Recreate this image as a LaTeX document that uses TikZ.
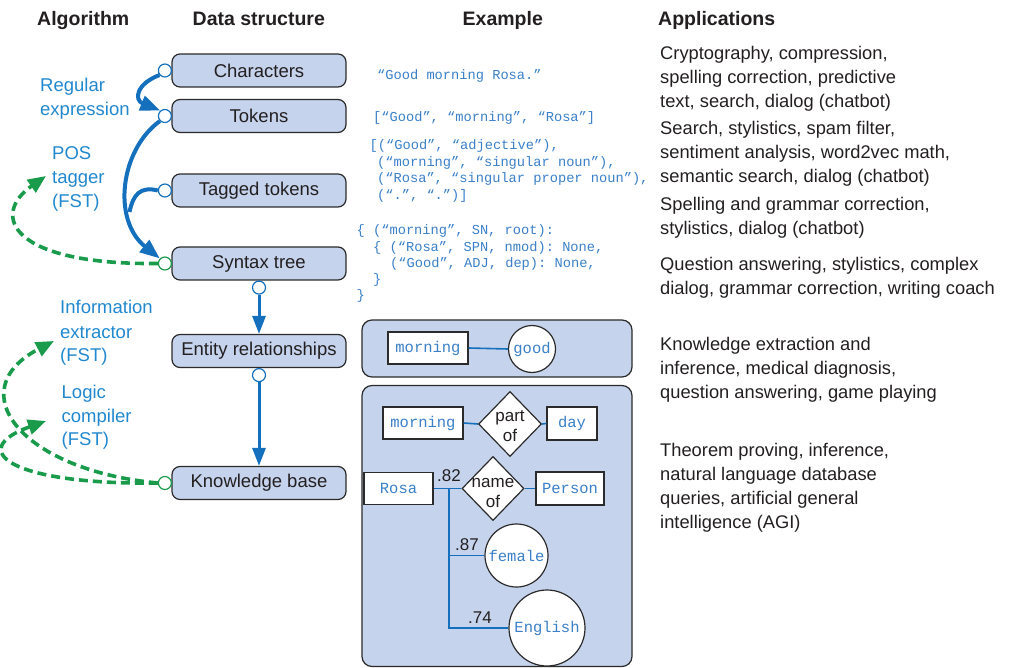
\documentclass[tikz,border=0pt]{standalone}
\usepackage{fontspec}
\setmainfont{Liberation Sans}
\setsansfont{Liberation Sans}
\setmonofont{Liberation Mono}
\usetikzlibrary{arrows.meta,shapes.geometric}
\definecolor{boxfill}{HTML}{C5D3EC}
\definecolor{boxline}{HTML}{2B2B2B}
\definecolor{arrblue}{HTML}{1470BD}
\definecolor{lblblue}{HTML}{2188CF}
\definecolor{codeblue}{HTML}{3A80C8}
\definecolor{fstgreen}{HTML}{1A9B4B}
\definecolor{txt}{HTML}{231F20}
\begin{document}
\begin{tikzpicture}[x=1pt,y=-1pt,
  dsbox/.style={draw=boxline, fill=boxfill, rounded corners=8pt, minimum width=174pt, minimum height=33pt, line width=1.2pt, font=\fontsize{18.5}{22}\selectfont, text=txt, inner sep=0pt},
  port/.style={circle, draw=arrblue, fill=white, line width=1.2pt, minimum size=13pt, inner sep=0pt},
  gport/.style={port, draw=fstgreen},
  flow/.style={draw=arrblue, line width=4pt, -{Triangle[length=20pt,width=15pt]}},
  vflow/.style={draw=arrblue, line width=3pt, -{Triangle[length=18pt,width=13pt]}},
  fst/.style={draw=fstgreen, line width=3.6pt, dash pattern=on 9pt off 5pt, -{Triangle[length=18pt,width=15pt]}},
  head/.style={anchor=base west, font=\bfseries\fontsize{19.5}{22}\selectfont, text=txt, inner sep=0pt},
  app/.style={anchor=base west, font=\fontsize{18.3}{22}\selectfont, text=txt, inner sep=0pt},
  alg/.style={anchor=base west, font=\fontsize{18.5}{22}\selectfont, text=lblblue, inner sep=0pt},
  code/.style={anchor=base west, font=\ttfamily\fontsize{13.7}{16}\selectfont, text=codeblue, inner sep=0pt},
  panel/.style={draw=boxline, fill=boxfill, rounded corners=10pt, line width=1.2pt, inner sep=0pt},
  ent/.style={draw=boxline, fill=white, line width=1.2pt, font=\ttfamily\fontsize{15.5}{18}\selectfont, text=codeblue, inner sep=0pt},
  attr/.style={circle, ent},
  rel/.style={diamond, draw=boxline, fill=white, line width=1.2pt, inner sep=0pt},
  reltext/.style={font=\fontsize{17}{20}\selectfont, align=center, text=txt, inner sep=0pt},
  wt/.style={anchor=base west, font=\fontsize{17}{19}\selectfont, text=txt, inner sep=0pt},
  link/.style={draw=arrblue, line width=1.6pt}
]
\useasboundingbox (0,0) rectangle (1012,668);

% headers
\node[head] (h1) at (37,26) {Algorithm};
\node[head] (h2) at (192.5,26) {Data structure};
\node[head] (h3) at (462.5,26) {Example};
\node[head] (h4) at (658,26) {Applications};

% data structure boxes
\node[dsbox] (chars) at (259,70.5) {Characters};
\node[dsbox] (tokens) at (259,116) {Tokens};
\node[dsbox] (tagged) at (259,190.5) {Tagged tokens};
\node[dsbox] (syntax) at (259,263.5) {Syntax tree};
\node[dsbox] (entity) at (259,351) {Entity relationships};
\node[dsbox] (kb) at (259,483) {Knowledge base};

% ports
\node[port] (c1) at ([xshift=-6.5pt]chars.west) {};
\node[port] (c2) at ([xshift=-6.5pt]tokens.west) {};
\node[port] (c3) at ([xshift=-6.5pt]tagged.west) {};
\node[gport] (c4) at ([xshift=-6.5pt]syntax.west) {};
\node[port] (c5) at ([yshift=-7pt]syntax.south) {};
\node[port] (c6) at ([yshift=-7pt]entity.south) {};
\node[gport] (c7) at ([xshift=-6.5pt]kb.west) {};

% blue flows
\draw[flow] (c1.220) .. controls (136,84) and (134,100) .. (c2.130);
\draw[flow] (c2.225) .. controls (120,150) and (112,220) .. (c4.135);
\coordinate (merge) at (129.5,212);
\draw[draw=arrblue, line width=4pt] (c3.west) .. controls (140,186) and (133,195) .. (merge);
\draw[vflow] (c5.south) -- (entity.north);
\draw[vflow] (c6.south) -- (kb.north);

% green FST arrows
\coordinate (posend) at (46,176);
\coordinate (ieend) at (54,341);
\coordinate (lcend) at (46,421);
\draw[fst] (c4.west) .. controls (10,265) and (-10,215) .. (posend);
\draw[fst] (c7.west) .. controls (20,470) and (-40,390) .. (ieend);
\draw[fst] (c7.west) .. controls (10,485) and (-35,450) .. (lcend);

% algorithm labels
\node[alg] (re1) at (40,92) {Regular};
\node[alg] (re2) at (40,116) {expression};
\node[alg] (pos1) at (52,160) {POS};
\node[alg] (pos2) at (52,184) {tagger};
\node[alg] (pos3) at (52,208) {(FST)};
\node[alg] (ie1) at (60,314) {Information};
\node[alg] (ie2) at (60,338) {extractor};
\node[alg] (ie3) at (60,361) {(FST)};
\node[alg] (lc1) at (61.5,398) {Logic};
\node[alg] (lc2) at (61.5,422) {compiler};
\node[alg] (lc3) at (61.5,445) {(FST)};

% examples (code)
\node[code] (ex1) at (377,79.5) {“Good morning Rosa.”};
\node[code] (ex2) at (373,122) {[“Good”, “morning”, “Rosa”]};
\node[code] (ex3a) at (369.5,150) {[(“Good”, “adjective”),};
\node[code] (ex3b) at (377,166.5) {(“morning”, “singular noun”),};
\node[code] (ex3c) at (377,183) {(“Rosa”, “singular proper noun”),};
\node[code] (ex3d) at (377,199.5) {(“.”, “.”)]};
\node[code] (ex4a) at (356.5,235) {\{ (“morning”, SN, root):};
\node[code] (ex4b) at (373,251.5) {\{ (“Rosa”, SPN, nmod): None,};
\node[code] (ex4c) at (390,268) {(“Good”, ADJ, dep): None,};
\node[code] (ex4d) at (373,284) {\}};
\node[code] (ex4e) at (356.5,300) {\}};

% entity relationships panel
\node[panel, minimum width=270pt, minimum height=57pt] (erpanel) at (497,348.5) {};
\node[ent, minimum width=80pt, minimum height=32pt] (m1) at (428,348) {morning};
\node[attr, minimum size=47pt] (good) at (532,349) {good};
\draw[link] (m1.east) -- (good.west);

% knowledge base panel
\node[panel, minimum width=270pt, minimum height=281pt] (kbpanel) at (497,526) {};
\node[ent, minimum width=80pt, minimum height=32pt] (m2) at (423,423) {morning};
\node[rel, minimum width=63pt, minimum height=65pt] (partof) at (510,424) {};
\node[reltext] (partoft) at ([yshift=-2pt]partof.center) {part\\of};
\node[ent, minimum width=50pt, minimum height=33pt] (day) at (572,423.5) {day};
\draw[link] (m2.east) -- (partof.west);
\draw[link] (partof.east) -- (day.west);

\node[ent, minimum width=69pt, minimum height=32pt] (rosa) at (398.5,488.5) {Rosa};
\node[rel, minimum width=62pt, minimum height=64pt] (nameof) at (493,488.5) {};
\node[reltext] (nameoft) at ([yshift=-5pt]nameof.center) {name\\of};
\node[ent, minimum width=68pt, minimum height=33pt] (person) at (570,488.5) {Person};
\draw[link] (rosa.east) -- (nameof.west);
\draw[link] (nameof.east) -- (person.west);

\node[attr, minimum size=63pt] (female) at (516.5,555.5) {female};
\node[attr, minimum size=76pt] (english) at (547,628) {English};
\coordinate (j0) at (449,488.5);
\coordinate (j1) at (449,555.5);
\coordinate (j2) at (449,628);
\draw[link] (j0) -- (j2) -- (english.west);
\draw[link] (j1) -- (female.west);
\node[wt] (w1) at (437,481.5) {.82};
\node[wt] (w2) at (455,550.5) {.87};
\node[wt] (w3) at (468,623.5) {.74};

% applications
\node[app] (a1) at (660,60) {Cryptography, compression,};
\node[app] (a2) at (660,84) {spelling correction, predictive};
\node[app] (a3) at (660,108) {text, search, dialog (chatbot)};
\node[app] (a4) at (660,135) {Search, stylistics, spam filter,};
\node[app] (a5) at (660,159) {sentiment analysis, word2vec math,};
\node[app] (a6) at (660,183) {semantic search, dialog (chatbot)};
\node[app] (a7) at (660,211) {Spelling and grammar correction,};
\node[app] (a8) at (660,235) {stylistics, dialog (chatbot)};
\node[app] (a9) at (660,271) {Question answering, stylistics, complex};
\node[app] (a10) at (660,295) {dialog, grammar correction, writing coach};
\node[app] (a11) at (660,350) {Knowledge extraction and};
\node[app] (a12) at (660,374) {inference, medical diagnosis,};
\node[app] (a13) at (660,398) {question answering, game playing};
\node[app] (a14) at (660,456) {Theorem proving, inference,};
\node[app] (a15) at (660,480) {natural language database};
\node[app] (a16) at (660,504) {queries, artificial general};
\node[app] (a17) at (660,528) {intelligence (AGI)};
\end{tikzpicture}
\end{document}
